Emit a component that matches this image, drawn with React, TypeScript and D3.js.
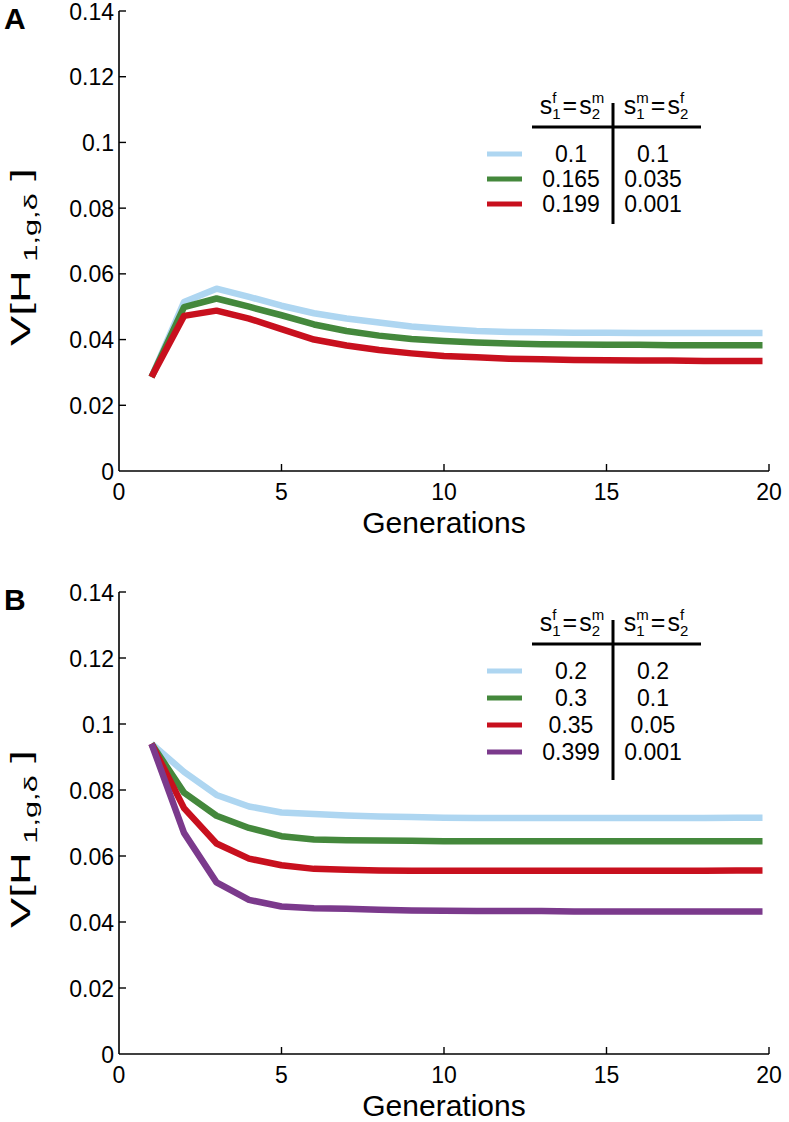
import React from "react";
import * as d3 from "d3";

const generations = [1, 2, 3, 4, 5, 6, 7, 8, 9, 10, 11, 12, 13, 14, 15, 16, 17, 18, 19, 19.8];

const aBlue = [0.0286, 0.0514, 0.0555, 0.0530, 0.0503, 0.0480, 0.0464, 0.0452, 0.0440, 0.0432, 0.0426, 0.0423, 0.0422, 0.0421, 0.0421, 0.0420, 0.0420, 0.0420, 0.0420, 0.0420];
const aGreen = [0.0286, 0.0499, 0.0525, 0.0500, 0.0474, 0.0446, 0.0426, 0.0412, 0.0402, 0.0396, 0.0391, 0.0388, 0.0386, 0.0385, 0.0384, 0.0384, 0.0383, 0.0383, 0.0383, 0.0383];
const aRed = [0.0286, 0.0472, 0.0488, 0.0464, 0.0432, 0.0400, 0.0382, 0.0368, 0.0358, 0.0350, 0.0346, 0.0342, 0.0340, 0.0338, 0.0337, 0.0336, 0.0336, 0.0335, 0.0335, 0.0335];

const bBlue = [0.0940, 0.0855, 0.0785, 0.0750, 0.0732, 0.0727, 0.0723, 0.0720, 0.0718, 0.0716, 0.0715, 0.0715, 0.0715, 0.0715, 0.0715, 0.0715, 0.0715, 0.0715, 0.0716, 0.0716];
const bGreen = [0.0940, 0.0792, 0.0722, 0.0685, 0.0660, 0.0650, 0.0648, 0.0647, 0.0646, 0.0645, 0.0645, 0.0645, 0.0645, 0.0645, 0.0645, 0.0645, 0.0645, 0.0645, 0.0645, 0.0645];
const bRed = [0.0940, 0.0745, 0.0638, 0.0592, 0.0572, 0.0561, 0.0558, 0.0556, 0.0555, 0.0555, 0.0555, 0.0555, 0.0555, 0.0555, 0.0555, 0.0555, 0.0555, 0.0555, 0.0556, 0.0556];
const bPurple = [0.0940, 0.0670, 0.0520, 0.0467, 0.0447, 0.0442, 0.0440, 0.0437, 0.0435, 0.0434, 0.0433, 0.0433, 0.0433, 0.0432, 0.0432, 0.0432, 0.0432, 0.0432, 0.0432, 0.0432];

const yTicks = [0, 0.02, 0.04, 0.06, 0.08, 0.1, 0.12, 0.14];
const xTicks = [0, 5, 10, 15, 20];

const colors = { blue: "#aed6f1", green: "#44883c", red: "#c8101e", purple: "#7b3a8c" };

const aLegendCol1 = ["0.1", "0.165", "0.199"];
const aLegendCol2 = ["0.1", "0.035", "0.001"];
const bLegendCol1 = ["0.2", "0.3", "0.35", "0.399"];
const bLegendCol2 = ["0.2", "0.1", "0.05", "0.001"];

const FONT = "'Liberation Sans', Arial, Helvetica, sans-serif";

type Series = { values: number[]; color: string };

function Header({ x, y, sub1, sup1, sub2, sup2 }: { x: number; y: number; sub1: string; sup1: string; sub2: string; sup2: string }) {
  const f = 25;
  const fs = 15;
  const wS = 0.5 * f;
  const wEq = 0.584 * f;
  const wC = (c: string) => (c === "m" ? 0.833 : c === "f" ? 0.278 : 0.556) * fs;
  const w1 = Math.max(wC(sub1), wC(sup1));
  const w2 = Math.max(wC(sub2), wC(sup2));
  const total = wS + w1 + 2 + wEq + 2 + wS + w2;
  let cx = x - total / 2;
  const parts: React.ReactNode[] = [];
  parts.push(<text key="s1" x={cx} y={y} fontSize={f}>s</text>);
  cx += wS;
  parts.push(<text key="p1" x={cx} y={y - 11} fontSize={fs}>{sup1}</text>);
  parts.push(<text key="b1" x={cx} y={y + 5} fontSize={fs}>{sub1}</text>);
  cx += w1 + 2;
  parts.push(<text key="eq" x={cx} y={y} fontSize={f}>=</text>);
  cx += wEq + 2;
  parts.push(<text key="s2" x={cx} y={y} fontSize={f}>s</text>);
  cx += wS;
  parts.push(<text key="p2" x={cx} y={y - 11} fontSize={fs}>{sup2}</text>);
  parts.push(<text key="b2" x={cx} y={y + 5} fontSize={fs}>{sub2}</text>);
  return <g fontFamily={FONT} fill="#000">{parts}</g>;
}

function Panel({ label, top, bottom, series, col1, col2, legendTop, rowPitch, vLineBottom }: {
  label: string; top: number; bottom: number; series: Series[]; col1: string[]; col2: string[];
  legendTop: number; rowPitch: number; vLineBottom: number;
}) {
  const x = d3.scaleLinear().domain([0, 20]).range([119, 769]);
  const y = d3.scaleLinear().domain([0, 0.14]).range([bottom, top]);
  const line = d3.line<number>().x((_, i) => x(generations[i])).y((d) => y(d));
  const hLineY = legendTop;
  const vX = 613;
  return (
    <g fontFamily={FONT}>
      <text x={4} y={top + 18} fontSize={30} fontWeight="bold">{label}</text>
      {/* axes */}
      <line x1={x(0)} x2={x(0)} y1={y(0)} y2={y(0.14)} stroke="#000" strokeWidth={1.6} />
      <line x1={x(0)} x2={x(20)} y1={y(0)} y2={y(0)} stroke="#000" strokeWidth={1.6} />
      {yTicks.map((t) => (
        <g key={"y" + t}>
          {t > 0 && <line x1={x(0)} x2={x(0) + 7} y1={y(t)} y2={y(t)} stroke="#000" strokeWidth={1.4} />}
          <text x={x(0) - 5} y={y(t) + 8.5} fontSize={23} textAnchor="end">{String(+t.toFixed(2))}</text>
        </g>
      ))}
      {xTicks.map((t) => (
        <g key={"x" + t}>
          {t > 0 && <line x1={x(t)} x2={x(t)} y1={y(0)} y2={y(0) - 7} stroke="#000" strokeWidth={1.4} />}
          <text x={x(t)} y={y(0) + 29} fontSize={23} textAnchor="middle">{t}</text>
        </g>
      ))}
      <text x={444} y={y(0) + 62} fontSize={30} textAnchor="middle">Generations</text>
      <text transform={`translate(30, ${(y(0) + y(0.14)) / 2 + 16}) rotate(-90)`} fontSize={28} textAnchor="middle"
        textLength={178} lengthAdjust="spacingAndGlyphs">
        V[H<tspan fontSize={19} dy={7}> 1,g,δ</tspan><tspan dy={-7}> ]</tspan>
      </text>
      {/* lines */}
      {series.map((s, i) => (
        <path key={i} d={line(s.values) || ""} fill="none" stroke={s.color} strokeWidth={6.5} strokeLinejoin="round" />
      ))}
      {/* legend */}
      <Header x={572} y={hLineY - 13} sub1="1" sup1="f" sub2="2" sup2="m" />
      <Header x={656} y={hLineY - 13} sub1="1" sup1="m" sub2="2" sup2="f" />
      <line x1={532} x2={701} y1={hLineY} y2={hLineY} stroke="#000" strokeWidth={3} />
      <line x1={vX} x2={vX} y1={hLineY - 24} y2={vLineBottom} stroke="#000" strokeWidth={3} />
      {series.map((s, i) => {
        const ry = hLineY + 27 + i * rowPitch;
        return (
          <g key={"l" + i}>
            <line x1={487} x2={522} y1={ry} y2={ry} stroke={s.color} strokeWidth={5} />
            <text x={571} y={ry + 8} fontSize={23} textAnchor="middle">{col1[i]}</text>
            <text x={653} y={ry + 8} fontSize={23} textAnchor="middle">{col2[i]}</text>
          </g>
        );
      })}
    </g>
  );
}

export default function App() {
  const seriesA: Series[] = [
    { values: aBlue, color: colors.blue },
    { values: aGreen, color: colors.green },
    { values: aRed, color: colors.red },
  ];
  const seriesB: Series[] = [
    { values: bBlue, color: colors.blue },
    { values: bGreen, color: colors.green },
    { values: bRed, color: colors.red },
    { values: bPurple, color: colors.purple },
  ];
  return (
    <svg width={789} height={1122} style={{ position: "absolute", left: 0, top: 0, background: "#fff" }}>
      <rect width={789} height={1122} fill="#fff" />
      <Panel label="A" top={11} bottom={471} series={seriesA} col1={aLegendCol1} col2={aLegendCol2}
        legendTop={127} rowPitch={25} vLineBottom={224} />
      <Panel label="B" top={592} bottom={1054} series={seriesB} col1={bLegendCol1} col2={bLegendCol2}
        legendTop={644} rowPitch={27} vLineBottom={780} />
    </svg>
  );
}
